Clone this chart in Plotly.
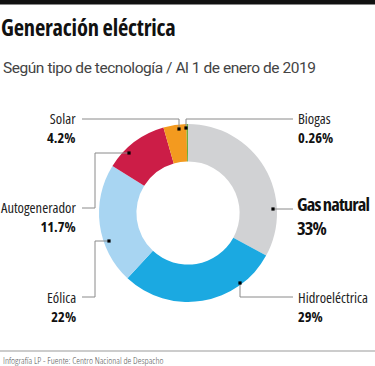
import plotly.graph_objects as go

W, H = 375, 366

labels = ["Gas natural", "Hidroeléctrica", "Eólica", "Autogenerador", "Solar", "Biogas"]
values = [33, 29, 22, 11.7, 4.2, 0.26]
pct_text = ["33%", "29%", "22%", "11.7%", "4.2%", "0.26%"]
colors = ["#d1d2d4", "#1ba9e1", "#a8d5f2", "#cc1d47", "#f39a1f", "#6cae3e"]

COND = "Open Sans, sans-serif"
REG = "Roboto, Noto Sans, sans-serif"

def px(x):
    return x / W

def py(y):
    return 1 - y / H

cx, cy, R = 188, 213, 89

fig = go.Figure()
fig.add_trace(go.Pie(
    labels=labels, values=values, hole=0.58, sort=False, direction="clockwise",
    rotation=0, marker=dict(colors=colors, line=dict(width=0)),
    textinfo="none", hoverinfo="label+percent", showlegend=False,
    domain=dict(x=[px(cx - R), px(cx + R)], y=[py(cy + R), py(cy - R)]),
))

shapes = []
shapes.append(dict(type="rect", xref="paper", yref="paper", x0=0, x1=1,
                   y0=py(4.5), y1=1, fillcolor="#111", line=dict(width=0), layer="above"))
shapes.append(dict(type="line", xref="paper", yref="paper", x0=0, x1=1,
                   y0=py(351), y1=py(351), line=dict(color="#999", width=1)))

leaders = {
    "Solar": ([(82, 119), (179, 119), (179, 129)], (179, 129)),
    "Biogas": ([(293, 119), (186, 119), (186, 128)], (186, 128)),
    "Gas natural": ([(273, 209), (293, 209)], (273, 209)),
    "Hidroeléctrica": ([(240, 283), (240, 297), (293, 297)], (240, 283)),
    "Eólica": ([(109, 241), (95, 241), (95, 297), (82, 297)], (109, 241)),
    "Autogenerador": ([(129, 153), (95, 153), (95, 208), (82, 208)], (129, 153)),
}
for name, (pts, dot) in leaders.items():
    path = "M " + " L ".join(f"{px(x)},{py(y)}" for x, y in pts)
    shapes.append(dict(type="path", xref="paper", yref="paper", path=path,
                       line=dict(color="#8a8a8a", width=1)))
    shapes.append(dict(type="rect", xref="paper", yref="paper",
                       x0=px(dot[0] - 1.6), x1=px(dot[0] + 1.6),
                       y0=py(dot[1] + 1.6), y1=py(dot[1] - 1.6),
                       fillcolor="#000", line=dict(width=0), layer="above"))

ann = []
def add(text, x, y, size, anchor="left", color="#111", font=COND,
        style="font-stretch:condensed", align="left"):
    t = f"<span style='{style}'>{text}</span>" if style else text
    ann.append(dict(text=t, x=px(x), y=py(y), xref="paper", yref="paper",
                    xanchor=anchor, yanchor="middle", showarrow=False, align=align,
                    font=dict(family=font, size=size, color=color)))

add("<b>Generación eléctrica</b>", -1.5, 28, 22.5, style="font-stretch:condensed;letter-spacing:-0.2px")
add("Según tipo de tecnología / Al 1 de enero de 2019", 1, 68, 15.5, color="#444", font=REG,
    style="letter-spacing:-0.45px")
add("Infografía LP - Fuente: Centro Nacional de Despacho", 1, 360, 9.5, color="#555",
    style="font-stretch:condensed;font-weight:300")

label_pos = {
    "Solar": (78, 128, "right"),
    "Biogas": (296, 128, "left"),
    "Hidroeléctrica": (296, 306.5, "left"),
    "Eólica": (78, 306.5, "right"),
    "Autogenerador": (78, 217, "right"),
}
for i, name in enumerate(labels):
    if name == "Gas natural":
        add(f"<b>{name}</b><br><b>{pct_text[i]}</b>", 295, 215.5, 18.5,
            style="font-stretch:condensed;letter-spacing:-0.9px")
        continue
    x, yc, anc = label_pos[name]
    add(f"<span style='color:#222'>{name}</span><br><b>{pct_text[i]}</b>", x, yc, 14.5,
        anchor=anc, align=anc)

fig.update_layout(width=W, height=H, margin=dict(l=0, r=0, t=0, b=0),
                  paper_bgcolor="white", plot_bgcolor="white",
                  shapes=shapes, annotations=ann)
fig.write_html("out.html")
